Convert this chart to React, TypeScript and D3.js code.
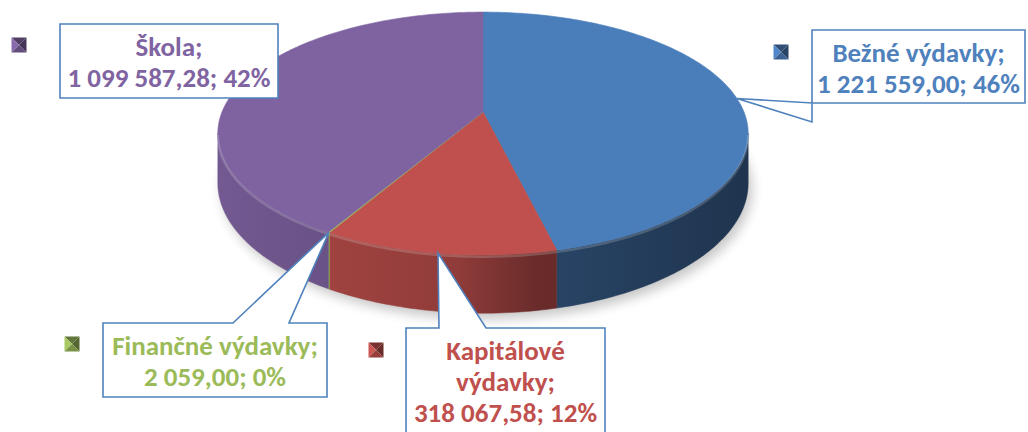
import React, { useEffect, useRef } from "react";
import * as d3 from "d3";

// chart data
const categories = ["Bežné výdavky", "Kapitálové výdavky", "Finančné výdavky", "Škola"];
const values = [1221559.0, 318067.58, 2059.0, 1099587.28];
const sliceColors = ["#4a7ebb", "#c0504d", "#9bbb59", "#7f63a1"];
const labelColors = ["#4f81bd", "#c0504d", "#9bbb59", "#8064a2"];

// label layout (box x, y, w, h), pointer side and pointer base
const labelBoxes = [
  { x: 812, y: 30, w: 213, h: 73, side: "left", base: [73, 92], wrap: false },
  { x: 406, y: 328, w: 199, h: 112, side: "top", base: [439, 486], wrap: true },
  { x: 103, y: 323, w: 224, h: 74, side: "top", base: [233, 289], wrap: false },
  { x: 60, y: 24, w: 218, h: 74, side: "none", base: [0, 0], wrap: false },
];
const markerPos = [
  [781, 52],
  [376, 350],
  [72, 344],
  [19, 45],
];

const W = 1028;
const H = 432;

export default function App() {
  const svgRef = useRef<SVGSVGElement>(null);

  useEffect(() => {
    drawPie();
  }, []);

  const drawPie = () => {
    const svg = d3.select(svgRef.current);
    svg.selectAll("*").remove();

    // 3D projection of the pie (tilted disc with a bit of perspective)
    const cx = 483, cy = 112, R = 261, Ry = 117.6, k = 0.177, depth = 48;
    const proj = (t: number, drop = 0): [number, number] => {
      const s = 1 / (1 + k * Math.cos(t));
      return [cx + R * Math.sin(t) * s, cy - Ry * Math.cos(t) * s + drop * s];
    };
    const arcPoints = (a0: number, a1: number, drop = 0) => {
      const n = Math.max(2, Math.ceil(((a1 - a0) * 180) / Math.PI));
      return d3.range(n + 1).map((i) => proj(a0 + ((a1 - a0) * i) / n, drop));
    };

    const total = d3.sum(values);
    const arcs = d3.pie<number>().sort(null).value((d) => d)(values);

    const locale = d3.formatLocale({
      decimal: ",",
      thousands: " ",
      grouping: [3],
      currency: ["", ""],
    });
    const fmt = locale.format(",.2f");

    const defs = svg.append("defs");
    defs
      .append("filter")
      .attr("id", "shadow")
      .attr("x", "-20%")
      .attr("y", "-20%")
      .attr("width", "140%")
      .attr("height", "140%")
      .append("feGaussianBlur")
      .attr("stdDeviation", 6);

    // side shading, lighter on the left, darker on the right
    sliceColors.forEach((c, i) => {
      const g = defs
        .append("linearGradient")
        .attr("id", `side${i}`)
        .attr("gradientUnits", "userSpaceOnUse")
        .attr("x1", cx - R)
        .attr("x2", cx + R)
        .attr("y1", 0)
        .attr("y2", 0);
      g.append("stop").attr("offset", "0%").attr("stop-color", d3.interpolateRgb(c, "#000")(0.1));
      g.append("stop").attr("offset", "45%").attr("stop-color", d3.interpolateRgb(c, "#000")(0.25));
      g.append("stop").attr("offset", "60%").attr("stop-color", d3.interpolateRgb(c, "#000")(0.45));
      g.append("stop").attr("offset", "100%").attr("stop-color", d3.interpolateRgb(c, "#000")(0.58));
    });

    const line = d3.line();

    // soft shadow under the pie
    const lo = Math.acos(-k);
    const hi = 2 * Math.PI - lo;
    const outline = [...arcPoints(0, 2 * Math.PI, depth)];
    svg
      .append("path")
      .attr("d", line(outline) + "Z")
      .attr("transform", "translate(4,6)")
      .attr("fill", "#000")
      .attr("opacity", 0.22)
      .attr("filter", "url(#shadow)");

    // side walls (front only)
    arcs.forEach((a, i) => {
      const a0 = Math.max(a.startAngle, lo);
      const a1 = Math.min(a.endAngle, hi);
      if (a1 <= a0) return;
      const pts = [...arcPoints(a0, a1), ...arcPoints(a0, a1, depth).reverse()];
      svg
        .append("path")
        .attr("d", line(pts) + "Z")
        .attr("fill", `url(#side${i})`)
        .attr("stroke", `url(#side${i})`)
        .attr("stroke-width", 0.5);
    });

    // top faces
    arcs.forEach((a, i) => {
      const pts = [[cx, cy] as [number, number], ...arcPoints(a.startAngle, a.endAngle)];
      svg
        .append("path")
        .attr("d", line(pts) + "Z")
        .attr("fill", sliceColors[i])
        .attr("stroke", sliceColors[i])
        .attr("stroke-width", 0.6);
    });

    // light bevel on the front rim
    svg
      .append("path")
      .attr("d", line(arcPoints(lo, hi, 1.5)))
      .attr("fill", "none")
      .attr("stroke", "#fff")
      .attr("stroke-opacity", 0.18)
      .attr("stroke-width", 2.5);

    // callouts
    arcs.forEach((a, i) => {
      const b = labelBoxes[i];
      const mid = (a.startAngle + a.endAngle) / 2;
      const tip = proj(mid);
      let d = "";
      if (b.side === "left") {
        d = `M${b.x},${b.y}H${b.x + b.w}V${b.y + b.h}H${b.x}V${b.y + b.base[1]}L${tip[0]},${tip[1]}L${b.x},${b.y + b.base[0]}Z`;
      } else if (b.side === "top") {
        d = `M${b.x},${b.y}H${b.base[0]}L${tip[0]},${tip[1]}L${b.base[1]},${b.y}H${b.x + b.w}V${b.y + b.h}H${b.x}Z`;
      } else {
        d = `M${b.x},${b.y}H${b.x + b.w}V${b.y + b.h}H${b.x}Z`;
      }
      svg
        .append("path")
        .attr("d", d)
        .attr("fill", "#fff")
        .attr("stroke", "#4f81bd")
        .attr("stroke-width", 1.6);

      const valueText = `${fmt(values[i])}; ${Math.round((values[i] / total) * 100)}%`;
      const lines = b.wrap
        ? [...categories[i].split(" ").map((w, j, arr) => (j === arr.length - 1 ? w + ";" : w)), valueText]
        : [categories[i] + ";", valueText];
      const lh = 31;
      const text = svg
        .append("text")
        .attr("text-anchor", "middle")
        .attr("font-family", "Carlito, Calibri, Lato, sans-serif")
        .attr("font-weight", "bold")
        .attr("font-size", 27)
        .attr("fill", labelColors[i]);
      lines.forEach((l, j) => {
        text
          .append("tspan")
          .attr("x", b.x + b.w / 2)
          .attr("y", b.y + 32 + j * lh)
          .text(l);
      });
    });

    // legend markers with bevel
    markerPos.forEach(([mx, my], i) => {
      const s = 7.5;
      const c = d3.color(sliceColors[i])!;
      const g = svg.append("g").attr("transform", `translate(${mx},${my})`);
      const tri = (pts: number[][], col: string) =>
        g.append("path").attr("d", "M" + pts.map((p) => p.join(",")).join("L") + "Z").attr("fill", col);
      tri([[-s, -s], [s, -s], [0, 0]], c.darker(1.3).toString());
      tri([[-s, -s], [-s, s], [0, 0]], c.brighter(0.2).toString());
      tri([[s, -s], [s, s], [0, 0]], c.darker(1.7).toString());
      tri([[-s, s], [s, s], [0, 0]], c.darker(0.7).toString());
    });
  };

  return (
    <svg
      ref={svgRef}
      width={W}
      height={H}
      style={{ position: "absolute", left: 0, top: 0, background: "#fff" }}
    ></svg>
  );
}
